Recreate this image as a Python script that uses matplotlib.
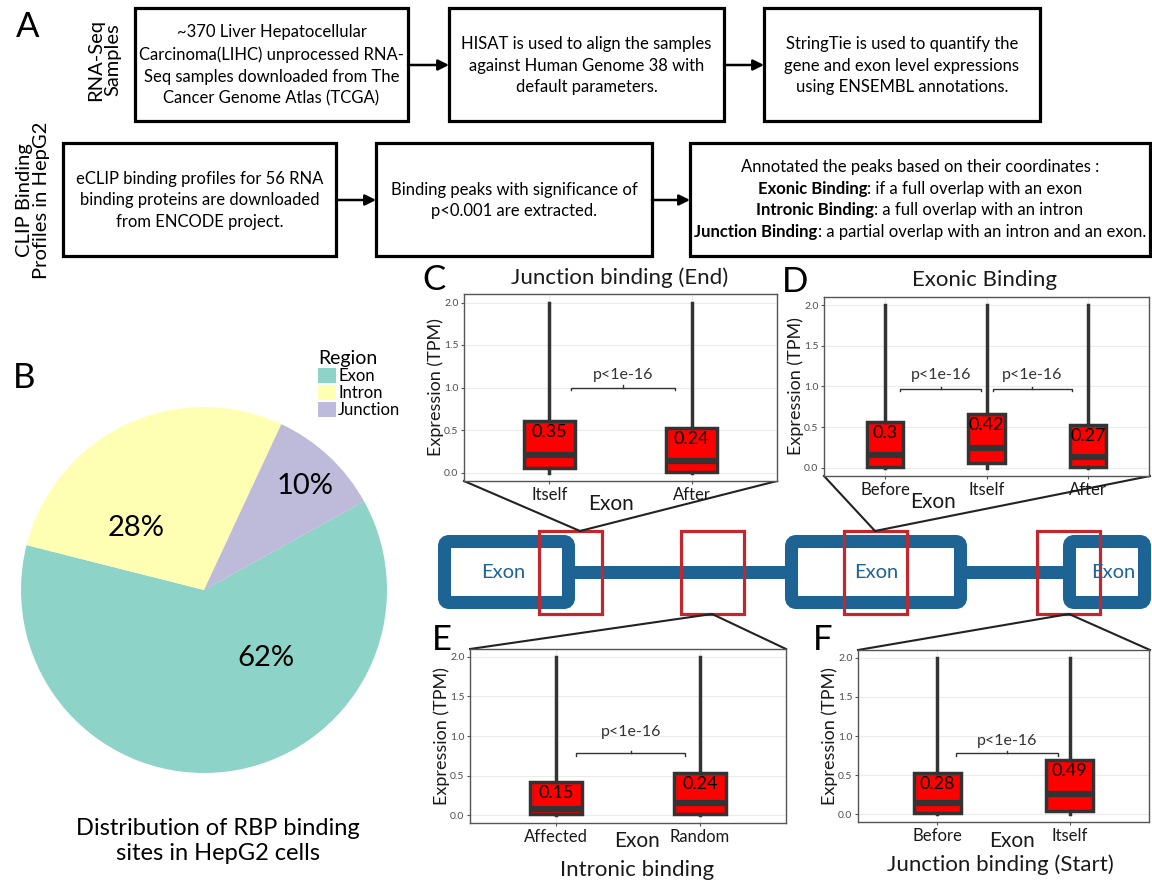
import matplotlib
matplotlib.use('Agg')
import matplotlib.pyplot as plt
from matplotlib.patches import Rectangle, FancyBboxPatch

plt.rcParams['font.family'] = ['Lato', 'DejaVu Sans']

# Panel B: share of RBP binding sites
regions = ['Exon', 'Intron', 'Junction']
region_pct = [62, 28, 10]

# Panels C-F: exon expression (TPM), box stats
c_groups = ['Itself', 'After']
c_q1 = [0.05, 0.01]
c_median = [0.21, 0.13]
c_q3 = [0.61, 0.52]
c_low = [0.0, 0.0]
c_high = [2.0, 2.0]
c_mean = [0.35, 0.24]

d_groups = ['Before', 'Itself', 'After']
d_q1 = [0.01, 0.06, 0.01]
d_median = [0.16, 0.25, 0.13]
d_q3 = [0.56, 0.66, 0.53]
d_low = [0.0, 0.0, 0.0]
d_high = [2.0, 2.0, 2.0]
d_mean = [0.3, 0.42, 0.27]

e_groups = ['Affected', 'Random']
e_q1 = [0.01, 0.01]
e_median = [0.08, 0.15]
e_q3 = [0.42, 0.53]
e_low = [0.0, 0.0]
e_high = [2.0, 2.0]
e_mean = [0.15, 0.24]

f_groups = ['Before', 'Itself']
f_q1 = [0.01, 0.04]
f_median = [0.14, 0.26]
f_q3 = [0.53, 0.69]
f_low = [0.0, 0.0]
f_high = [2.0, 2.0]
f_mean = [0.28, 0.49]

p_text = 'p<1e-16'

W, H = 1152, 882
fig = plt.figure(figsize=(W / 100, H / 100), dpi=100)
ov = fig.add_axes([0, 0, 1, 1])
ov.set_xlim(0, W)
ov.set_ylim(H, 0)
ov.axis('off')
renderer = fig.canvas.get_renderer()


def rect(x0, y0, x1, y1):
    return [x0 / W, 1 - y1 / H, (x1 - x0) / W, (y1 - y0) / H]


# ---- panel A: workflow boxes ----
BOX_FS = 12


def flow_box(x0, y0, x1, y1, text=None):
    ov.add_patch(Rectangle((x0, y0), x1 - x0, y1 - y0, fill=False, lw=2.3, ec='black'))
    if text:
        ov.text((x0 + x1) / 2, (y0 + y1) / 2 + 1, text, ha='center', va='center',
                fontsize=BOX_FS, linespacing=1.45)


def arrow(x0, x1, y):
    ov.annotate('', xy=(x1, y), xytext=(x0, y),
                arrowprops=dict(arrowstyle='-|>', lw=1.8, color='black',
                                mutation_scale=16, shrinkA=0, shrinkB=0))


def mixed_line(xc, y, bold, rest, size=BOX_FS):
    tb = ov.text(0, y, bold, fontsize=size, fontweight='bold', ha='left', va='baseline')
    tr = ov.text(0, y, rest, fontsize=size, ha='left', va='baseline')
    wb = tb.get_window_extent(renderer).width
    wr = tr.get_window_extent(renderer).width
    x0 = xc - (wb + wr) / 2
    tb.set_x(x0)
    tr.set_x(x0 + wb)


flow_box(135, 8, 408, 121, '~370 Liver Hepatocellular\nCarcinoma(LIHC) unprocessed RNA-\n'
         'Seq samples downloaded from The\nCancer Genome Atlas (TCGA)')
flow_box(449, 8, 724, 121, 'HISAT is used to align the samples\nagainst Human Genome 38 with\n'
         'default parameters.')
flow_box(764, 8, 1040, 121, 'StringTie is used to quantify the\ngene and exon level expressions\n'
         'using ENSEMBL annotations.')
arrow(408, 449, 65)
arrow(724, 764, 65)

flow_box(63, 143, 336, 256, 'eCLIP binding profiles for 56 RNA\nbinding proteins are downloaded\n'
         'from ENCODE project.')
flow_box(376, 143, 652, 256, 'Binding peaks with significance of\np<0.001 are extracted.')
flow_box(690, 143, 1150, 256)
arrow(336, 376, 200)
arrow(652, 690, 200)

xc6 = (690 + 1150) / 2
ov.text(xc6, 172, 'Annotated the peaks based on their coordinates :', ha='center',
        va='baseline', fontsize=BOX_FS)
mixed_line(xc6, 194, 'Exonic Binding', ': if a full overlap with an exon')
mixed_line(xc6, 215, 'Intronic Binding', ': a full overlap with an intron')
mixed_line(xc6, 237, 'Junction Binding', ': a partial overlap with an intron and an exon.')

ov.text(104, 60, 'RNA-Seq\nSamples', rotation=90, ha='center', va='center',
        fontsize=14.5, linespacing=1.0)
ov.text(33, 200, 'CLIP Binding\nProfiles in HepG2', rotation=90, ha='center', va='center',
        fontsize=14.5, linespacing=1.0)

# ---- panel letters ----
for letter, x, y in [('A', 28, 27), ('B', 24, 378), ('C', 434, 280), ('D', 795, 282),
                     ('E', 442, 640), ('F', 823, 640)]:
    ov.text(x, y, letter, fontsize=25, ha='center', va='center')

# ---- panel B: pie ----
pie_colors = ['#8DD3C7', '#FFFFB3', '#BEBADA']
pax = fig.add_axes(rect(21, 407, 387, 773))
wedges, _ = pax.pie(region_pct, colors=pie_colors, startangle=29, counterclock=False,
                    radius=1, wedgeprops=dict(linewidth=0))
pax.set_xlim(-1, 1)
pax.set_ylim(-1, 1)
pax.set_aspect('equal')
for (lx, ly), v in zip([(0.34, -0.37), (-0.37, 0.34), (0.55, 0.57)], region_pct):
    pax.text(lx, ly, f'{v}%', ha='center', va='center', fontsize=21)
leg = pax.legend(wedges, regions, title='Region', loc='upper left',
                 bbox_to_anchor=(318 / W, 1 - 350 / H), bbox_transform=fig.transFigure,
                 frameon=False, fontsize=12, title_fontsize=14, handlelength=1.05,
                 handleheight=1.0, handletextpad=0.15, labelspacing=0.05,
                 borderpad=0, borderaxespad=0, alignment='left')
ov.text(218, 841, 'Distribution of RBP binding\nsites in HepG2 cells', ha='center',
        va='center', fontsize=17, linespacing=1.2)

# ---- gene model ----
blue = '#1D6394'
for x0, x1 in [(438, 575), (785, 967), (1063, 1151)]:
    ov.add_patch(FancyBboxPatch((x0 + 6.5, 541.5), x1 - x0 - 13, 61,
                                boxstyle='round,pad=0,rounding_size=5',
                                fill=False, ec=blue, lw=9.4))
    ov.text((x0 + x1) / 2 + (6 if x0 > 1000 else 0) - (3 if x0 < 500 else 0), 573, 'Exon',
            color=blue, fontsize=14.5, ha='center', va='center')
for x0, x1 in [(569, 787), (961, 1065)]:
    ov.add_patch(Rectangle((x0, 566), x1 - x0, 13, color=blue, lw=0))
for x0 in [539, 681, 844, 1037]:
    ov.add_patch(Rectangle((x0, 531), 63, 83, fill=False, ec='#C1272D', lw=2.3))

for pts in [[(464, 481), (580, 531), (777, 481)],
            [(824, 476), (875, 531), (1150, 476)],
            [(470, 649), (712, 614), (786, 649)],
            [(858, 650), (1069, 614), (1150, 650)]]:
    ov.plot([p[0] for p in pts], [p[1] for p in pts], color='#222222', lw=1.5)


# ---- panels C-F: box plots ----
def box_panel(px, groups, q1, med, q3, low, high, mean, brackets, bracket_y, p_gap,
              xlab_xy):
    x0, y0, x1, y1 = px
    ax = fig.add_axes(rect(*px))
    stats = [dict(q1=a, med=b, q3=c, whislo=d, whishi=e)
             for a, b, c, d, e in zip(q1, med, q3, low, high)]
    pos = list(range(1, len(groups) + 1))
    ax.bxp(stats, positions=pos, widths=0.36, patch_artist=True, showfliers=False,
           showcaps=False,
           boxprops=dict(facecolor='#FF0000', edgecolor='#333333', linewidth=2.5),
           medianprops=dict(color='#333333', linewidth=4.5, solid_capstyle='butt'),
           whiskerprops=dict(color='#333333', linewidth=2.5))
    ax.set_xlim(0.4, len(groups) + 0.6)
    ax.set_ylim(-0.1, 2.1)
    ax.set_yticks([0, 0.5, 1, 1.5, 2])
    ax.set_yticklabels(['0.0', '0.5', '1.0', '1.5', '2.0'])
    ax.set_xticks(pos)
    ax.set_xticklabels(groups)
    ax.grid(True, color='#EBEBEB', lw=0.8)
    ax.set_axisbelow(True)
    for s in ax.spines.values():
        s.set_color('#555555')
        s.set_linewidth(1)
    ax.tick_params(axis='y', labelsize=7.5, labelcolor='#4D4D4D', length=2.5, width=0.8,
                   color='#555555', pad=1.5)
    ax.tick_params(axis='x', labelsize=12, labelcolor='#1A1A1A', length=2.5, width=0.8,
                   color='#555555', pad=1.5)
    ax.set_ylabel('Expression (TPM)', fontsize=13, color='#1A1A1A')
    ax.yaxis.set_label_coords(-20 / (x1 - x0), 0.5)
    ax.set_xlabel('Exon', fontsize=15, color='#1A1A1A')
    ax.xaxis.set_label_coords((xlab_xy[0] - x0) / (x1 - x0),
                              (y1 - (xlab_xy[1] - 11)) / (y1 - y0))
    for i, (m, top) in enumerate(zip(mean, q3), start=1):
        ax.annotate(f'{m:g}', xy=(i, top), xytext=(0, -11), textcoords='offset pixels',
                    ha='center', va='center', fontsize=13, color='black')
    for bx1, bx2 in brackets:
        ax.plot([bx1, bx1, bx2, bx2],
                [bracket_y - 0.03, bracket_y, bracket_y, bracket_y - 0.03],
                color='#333333', lw=1)
        xm = (bx1 + bx2) / 2
        ax.plot([xm, xm], [bracket_y, bracket_y + 0.025], color='#333333', lw=1)
        ax.annotate(p_text, xy=(xm, bracket_y), xytext=(0, p_gap),
                    textcoords='offset pixels', ha='center', va='center',
                    fontsize=11.5, color='#333333')
    return ax


box_panel((464, 294, 777, 481), c_groups, c_q1, c_median, c_q3, c_low, c_high, c_mean,
          [(1.15, 1.88)], 1.0, 13, (611, 505))
box_panel((824, 297, 1149, 476), d_groups, d_q1, d_median, d_q3, d_low, d_high, d_mean,
          [(1.15, 1.95), (2.06, 2.84)], 0.97, 14, (933, 503))
box_panel((470, 649, 786, 823), e_groups, e_q1, e_median, e_q3, e_low, e_high, e_mean,
          [(1.14, 1.90)], 0.78, 21, (637, 842))
box_panel((858, 650, 1149, 822), f_groups, f_q1, f_median, f_q3, f_low, f_high, f_mean,
          [(1.14, 1.91)], 0.78, 12, (1012, 842))

for t, x, y in [('Junction binding (End)', 620, 278), ('Exonic Binding', 985, 280),
                ('Intronic binding', 637, 870), ('Junction binding (Start)', 1000, 865)]:
    ov.text(x, y, t, fontsize=16, ha='center', va='center', color='#1A1A1A')

fig.savefig('out.png', dpi=100)
